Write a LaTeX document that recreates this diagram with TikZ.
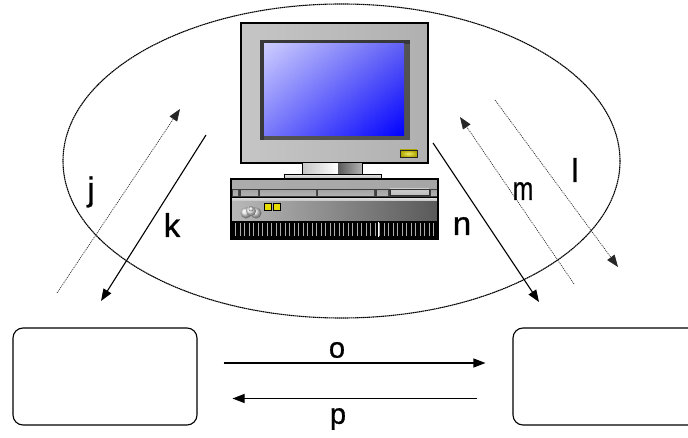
\documentclass[tikz,border=0pt]{standalone}
\usepackage{fontspec}
\setmainfont{Liberation Sans}
\newfontfamily\lblfont{Liberation Sans}[FakeBold=0.8]
\usetikzlibrary{arrows.meta,calc,shadings}
\definecolor{scrUL}{RGB}{205,205,255}
\definecolor{scrUR}{RGB}{95,95,245}
\definecolor{scrLL}{RGB}{120,120,250}
\definecolor{scrLR}{RGB}{0,0,255}
\definecolor{ledY}{RGB}{230,220,0}
\begin{document}
\begin{tikzpicture}[x=1pt,y=-1pt,
  lbl/.style={font=\lblfont\fontsize{33}{38}\selectfont, inner sep=0pt},
  smalllbl/.style={font=\lblfont\fontsize{29}{34}\selectfont, inner sep=0pt},
  tip/.style={-{Triangle[length=12pt,width=9pt]}},
  solidarrow/.style={tip, line width=1.1pt, black},
  dotarrow/.style={tip, line width=0.7pt, dash pattern=on 1pt off 1pt, black!85},
  panel/.style={draw, line width=1.1pt, rounded corners=10pt, inner sep=0pt,
    minimum height=97pt},
  ring/.style={line width=1.1pt, dash pattern=on 1.5pt off 0.5pt},
  outline/.style={draw=black, line width=1.2pt}
]
\useasboundingbox (0,0) rectangle (688,438);

% enclosing ellipse
\draw[ring] (341.5,161) ellipse [x radius=278.5, y radius=157];

% ---- computer: monitor ----
\shadedraw[outline, left color=gray!45, middle color=gray!5, right color=gray!62]
  (241,23) rectangle (428,163);
\fill[black!78] (260,40) rectangle (410,140);
\fill[black!68] (264,44) rectangle (410,140);
\shade[upper left=scrUL, upper right=scrUR, lower left=scrLL, lower right=scrLR]
  (264,44) rectangle (404,136);
\shadedraw[draw=black!85, line width=0.8pt, inner color=ledY!60!white, outer color=ledY!75!black]
  (400,150) rectangle (417,157);

% stand
\shade[left color=gray!45, right color=white] (302,163) rectangle (338,175);
\shade[left color=black!65, right color=gray!60] (338,163) rectangle (362,175);
\draw[outline, line width=1pt] (302,163) rectangle (362,175);
\shadedraw[outline, line width=1pt, top color=gray!25, bottom color=gray!60]
  (284,175) rectangle (381,179);

% ---- computer: desktop unit ----
\shade[left color=gray!65, middle color=gray!15, right color=gray!70]
  (231,179) rectangle (438,189);
\fill[black!75] (231,189) rectangle (438,197);
\foreach \a/\b in {233/238,241/258,260/316,318/374,377/388,431/437}
  \shade[top color=gray!70, middle color=white, bottom color=gray!60] (\a,190.5) rectangle (\b,195.5);
\shadedraw[draw=black!80, line width=0.6pt, top color=gray!40, middle color=white, bottom color=gray!50]
  (390,189) rectangle (429,195);
\fill[black] (231,197) rectangle (438,198.5);
\shade[top color=gray!30, bottom color=gray!55] (231,198.5) rectangle (438,202);
\shade[left color=gray!55, middle color=gray!10, right color=black!65]
  (231,202) rectangle (438,221);
\fill[black] (231,221) rectangle (438,239);
\foreach \i in {0,...,44}
  \draw[gray!65, line width=0.7pt] ({235.5+\i*4.5},223.5) -- ++(0,13);
\draw[white, line width=0.9pt] (378,222.5) -- ++(0,15);
\draw[outline, line width=1.4pt] (231,179) rectangle (438,239);
% front LEDs and badge
\foreach \a in {264,273}
  \filldraw[fill=ledY, draw=black, line width=0.8pt] (\a,203.5) rectangle ++(7,7);
\shade[ball color=gray!25] (246,213) circle (5.5);
\shade[ball color=gray!25] (256,213) circle (5.5);
\shade[ball color=gray!15] (251,211) circle (5);
\shade[ball color=gray!20] (251,209) circle (2.5);

% ---- side panels ----
\node[panel, minimum width=184pt] (lbox) at (105,376.5) {};
\node[panel, minimum width=187pt] (rbox) at (606.5,376.5) {};

% ---- diagonal flows ----
\coordinate (j0) at (57,293);   \coordinate (j1) at (180,109);
\coordinate (k0) at (206,135);  \coordinate (k1) at (101,301);
\coordinate (n0) at (433,143);  \coordinate (n1) at (539,302);
\coordinate (m0) at (574,284);  \coordinate (m1) at (460,117);
\coordinate (l0) at (495,100);  \coordinate (l1) at (618,267);
\draw[dotarrow] (j0) -- (j1);
\draw[solidarrow] (k0) -- (k1);
\draw[solidarrow] (n0) -- (n1);
\draw[dotarrow] (m0) -- (m1);
\draw[dotarrow] (l0) -- (l1);

% ---- horizontal flows between panels ----
\draw[solidarrow] ($(lbox.east)+(26,-13.5)$) -- ($(rbox.west)+(-27,-13.5)$);
\draw[solidarrow] ($(rbox.west)+(-35,22)$) -- ($(lbox.east)+(35,22)$);

% ---- labels ----
\node[lbl] (tj) at (91,192) {j};
\node[lbl] (tk) at (172,225) {k};
\node[lbl] (tl) at (575,170) {l};
\node[lbl, xscale=0.75] (tm) at (523,191) {m};
\node[lbl] (tn) at (462,226) {n};
\node[smalllbl] (to) at (337,350) {o};
\node[smalllbl] (tp) at (338,419) {p};
\end{tikzpicture}
\end{document}
